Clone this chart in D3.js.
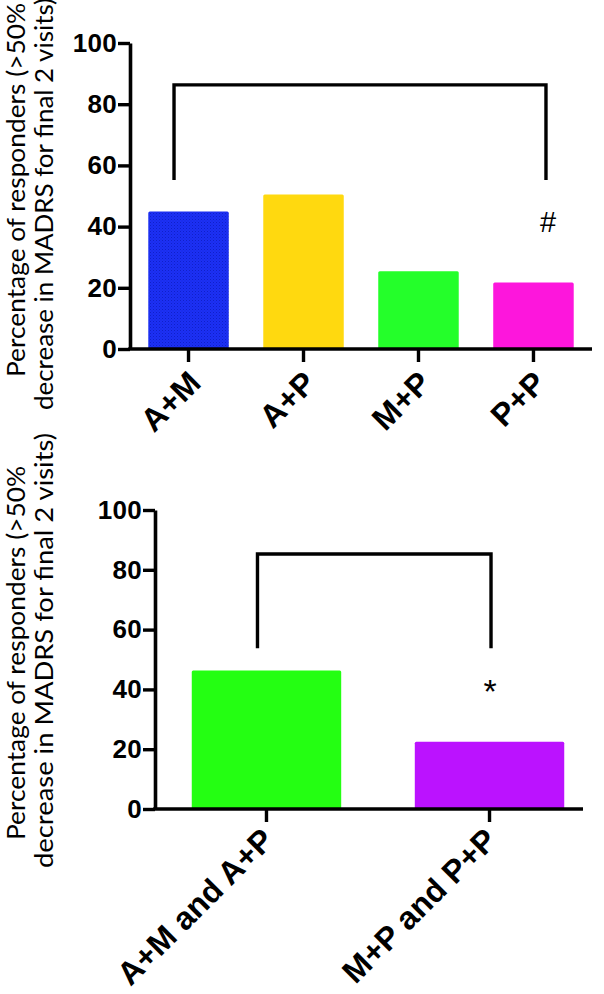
<!DOCTYPE html>
<html>
<head>
<meta charset="utf-8">
<script src="https://cdn.jsdelivr.net/npm/d3@7"></script>
<style>
  html, body { margin: 0; padding: 0; background: #fff; }
  svg { display: block; }
</style>
</head>
<body>
<svg id="chart" width="604" height="994"></svg>
<script>
// ---- data ----
const topCategories = ["A+M", "A+P", "M+P", "P+P"];
const topValues = [44.9, 50.5, 25.4, 21.7];
const topColors = ["url(#blueHatch)", "#ffd90f", "#24ff2a", "#fd16dc"];

const bottomCategories = ["A+M and A+P", "M+P and P+P"];
const bottomValues = [46.3, 22.5];
const bottomColors = ["#24ff12", "#bb12ff"];

const yTicks = [0, 20, 40, 60, 80, 100];
const yTitleLines = ["Percentage of responders (>50%", "decrease in MADRS for final 2 visits)"];

const topBracket = { from: "A+M", to: "P+P", level: 86.3, drop: 55.2, mark: "#", markLevel: 41.5 };
const bottomBracket = { from: "A+M and A+P", to: "M+P and P+P", level: 85.3, drop: 53.8, mark: "*", markLevel: 41.0 };

// ---- drawing ----
const svg = d3.select("#chart");
const defs = svg.append("defs");
const pat = defs.append("pattern").attr("id", "blueHatch")
  .attr("patternUnits", "userSpaceOnUse").attr("width", 3).attr("height", 3);
pat.append("rect").attr("width", 3).attr("height", 3).attr("fill", "#1c30f5");
pat.append("rect").attr("width", 1).attr("height", 1).attr("fill", "#1020c8");
pat.append("rect").attr("x", 1.5).attr("y", 1.5).attr("width", 1).attr("height", 1).attr("fill", "#1525d8");

function drawPanel(cfg) {
  const g = svg.append("g");
  const y = d3.scaleLinear().domain([0, 100]).range([cfg.bottom, cfg.top]);
  const x = d3.scaleBand().domain(cfg.categories).range(cfg.barRange)
    .paddingInner(cfg.padInner).paddingOuter(cfg.padOuter);

  // bars
  g.selectAll("rect.bar").data(cfg.values).enter().append("rect")
    .attr("class", "bar")
    .attr("x", (d, i) => x(cfg.categories[i]))
    .attr("width", x.bandwidth())
    .attr("y", d => y(d))
    .attr("height", d => y(0) - y(d))
    .attr("rx", 1.5)
    .attr("fill", (d, i) => cfg.colors[i]);

  // y axis
  const ya = g.append("g").attr("transform", `translate(${cfg.left},0)`)
    .call(d3.axisLeft(y).tickValues(yTicks).tickSize(12).tickSizeOuter(0).tickPadding(1));
  ya.select(".domain").attr("stroke-width", 3.6).attr("stroke", "#000");
  ya.selectAll(".tick line").attr("stroke-width", 3.4).attr("stroke", "#000");
  ya.selectAll(".tick text")
    .attr("font-family", "'Liberation Sans', Arial, sans-serif")
    .attr("font-weight", "bold").attr("font-size", 26).attr("fill", "#000")
    .attr("letter-spacing", 0.3);

  // x axis
  const xa = g.append("g").attr("transform", `translate(0,${y(0)})`)
    .call(d3.axisBottom(x).tickSize(13).tickSizeOuter(0).tickFormat(""));
  xa.select(".domain").remove();
  xa.selectAll(".tick line").attr("stroke-width", 3.4).attr("stroke", "#000");
  g.append("line")
    .attr("x1", cfg.left - 1.8).attr("x2", cfg.axisEnd)
    .attr("y1", y(0)).attr("y2", y(0))
    .attr("stroke", "#000").attr("stroke-width", 3.6);

  // x labels
  g.selectAll("text.xl").data(cfg.categories).enter().append("text")
    .attr("class", "xl")
    .attr("transform", d => `translate(${x(d) + x.bandwidth() / 2 + cfg.labelDx},${y(0) + cfg.labelDy}) rotate(-45)`)
    .attr("text-anchor", "end")
    .attr("font-family", "'Liberation Sans', Arial, sans-serif")
    .attr("font-weight", "bold").attr("font-size", 32).attr("fill", "#000")
    .text(d => d);

  // bracket
  const b = cfg.bracket;
  const bx1 = x(b.from) + x.bandwidth() / 2 + cfg.bracketDx[0];
  const bx2 = x(b.to) + x.bandwidth() / 2 + cfg.bracketDx[1];
  g.append("path")
    .attr("d", d3.line()([[bx1, y(b.drop)], [bx1, y(b.level)], [bx2, y(b.level)], [bx2, y(b.drop)]]))
    .attr("fill", "none").attr("stroke", "#000").attr("stroke-width", 3.4)
    .attr("stroke-linejoin", "miter");
  g.append("text")
    .attr("x", bx2 + cfg.markDx).attr("y", y(b.markLevel))
    .attr("dy", cfg.markDy)
    .attr("text-anchor", "middle")
    .attr("font-family", "'Liberation Sans', Arial, sans-serif")
    .attr("font-size", cfg.markSize).attr("fill", "#000")
    .text(b.mark);

  // y title
  yTitleLines.forEach((t, i) => {
    g.append("text")
      .attr("transform", `translate(${cfg.titleX[i]},${cfg.titleStart[i]}) rotate(-90)`)
      .attr("text-anchor", "start")
      .attr("font-family", "Lato, 'Open Sans', sans-serif")
      .attr("font-size", 25).attr("fill", "#000")
      .attr("textLength", cfg.titleLen[i])
      .attr("lengthAdjust", "spacingAndGlyphs")
      .text(t);
  });
}

drawPanel({
  categories: topCategories, values: topValues, colors: topColors,
  left: 130, top: 43, bottom: 349, barRange: [130, 592], axisEnd: 592,
  padInner: 0.3, padOuter: 0.159,
  labelDx: 14, labelDy: 36,
  bracket: topBracket, bracketDx: [-14.5, 12.5], markDx: 2, markDy: 10, markSize: 29,
  titleX: [25, 53], titleStart: [377, 410], titleLen: [374, 412]
});

drawPanel({
  categories: bottomCategories, values: bottomValues, colors: bottomColors,
  left: 155, top: 510, bottom: 809, barRange: [165, 591], axisEnd: 583,
  padInner: 0.33, padOuter: 0.12,
  labelDx: 9, labelDy: 33,
  bracket: bottomBracket, bracketDx: [-9, 1.5], markDx: -1, markDy: 17, markSize: 34,
  titleX: [25, 53], titleStart: [840, 868], titleLen: [374, 435]
});
</script>
</body>
</html>
